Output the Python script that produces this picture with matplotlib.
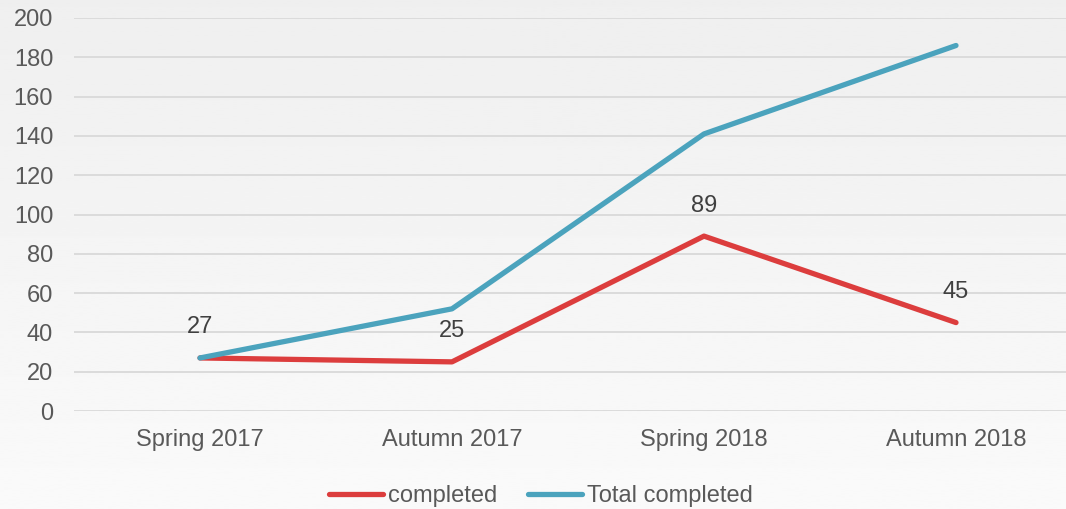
import numpy as np
import matplotlib.pyplot as plt

# ---------------------------------------------------------------------
# Data
# ---------------------------------------------------------------------
terms = ["Spring 2017", "Autumn 2017", "Spring 2018", "Autumn 2018"]
completed = [27, 25, 89, 45]
total_completed = [27, 52, 141, 186]

RED = "#dc3d3d"
BLUE = "#4ba3bd"
TXT = "#595959"
FS = 17

plt.rcParams["font.family"] = ["Liberation Sans", "DejaVu Sans"]

fig = plt.figure(figsize=(10.66, 5.09), dpi=100)

# soft vertical gradient behind everything
bg = fig.add_axes([0, 0, 1, 1], zorder=-10)
grad = np.linspace(0.937, 0.98, 256).reshape(-1, 1)
bg.imshow(grad, aspect="auto", cmap="gray", vmin=0, vmax=1, extent=[0, 1, 0, 1], origin="upper")
bg.set_axis_off()

ax = fig.add_axes([74 / 1066, 98 / 509, 992 / 1066, 393 / 509])
ax.patch.set_alpha(0)
x = np.arange(len(terms))

ax.plot(x, completed, color=RED, lw=3.8, solid_capstyle="round", solid_joinstyle="round",
        label="completed", zorder=3)
ax.plot(x, total_completed, color=BLUE, lw=3.8, solid_capstyle="round", solid_joinstyle="round",
        label="Total completed", zorder=3)

for xi, v in zip(x, completed):
    ax.annotate(str(v), (xi, v), xytext=(0, 22), textcoords="offset points",
                ha="center", va="center", fontsize=FS, color="#404040")

ax.set_xlim(-0.5, -0.5 + 4 * 992 / 1008)
ax.set_ylim(0, 200)
ax.set_yticks(range(0, 201, 20))
ax.set_xticks(x)
ax.set_xticklabels(terms)
ax.tick_params(axis="both", length=0, labelsize=FS, labelcolor=TXT)
ax.tick_params(axis="y", pad=15)
ax.tick_params(axis="x", pad=13)
ax.grid(axis="y", color="#d9d9d9", lw=1.3)
ax.set_axisbelow(True)
for s in ax.spines.values():
    s.set_visible(False)

leg = fig.legend(loc="center", bbox_to_anchor=(541 / 1066, 13 / 509), ncol=2, frameon=False,
                 fontsize=FS, labelcolor=TXT, handlelength=2.3, handletextpad=0.2,
                 columnspacing=1.3)
for h in leg.legend_handles:
    h.set_solid_capstyle("round")

fig.savefig("out.png", dpi=100)
